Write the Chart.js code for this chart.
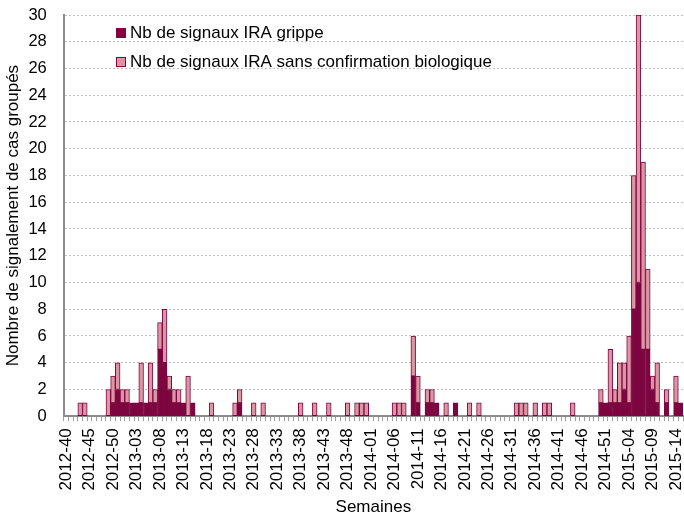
<!DOCTYPE html>
<html>
<head>
<meta charset="utf-8">
<script src="https://cdn.jsdelivr.net/npm/chart.js@4"></script>
<style>
  html, body { margin: 0; padding: 0; background: #fff; }
</style>
</head>
<body>
<canvas id="chart" width="684" height="518"></canvas>
<script>
// Semaines 2012-40 ... 2015-15 (2012, 2013, 2014 : 52 semaines)
var weeks = [];
[[2012, 40, 52], [2013, 1, 52], [2014, 1, 52], [2015, 1, 15]].forEach(function (r) {
    for (var w = r[1]; w <= r[2]; w++) weeks.push(r[0] + '-' + (w < 10 ? '0' + w : w));
});

// Nb de signaux IRA grippe
var grippe = [
    0, 0, 0, 0, 0, 0, 0, 0, 0, 0,
    1, 2, 1, 1, 1, 1, 1, 1, 1, 1,
    5, 4, 2, 1, 1, 1, 0, 1, 0, 0,
    0, 0, 0, 0, 0, 0, 0, 1, 0, 0,
    0, 0, 0, 0, 0, 0, 0, 0, 0, 0,
    0, 0, 0, 0, 0, 0, 0, 0, 0, 0,
    0, 0, 0, 0, 0, 0, 0, 0, 0, 0,
    0, 0, 0, 0, 3, 1, 0, 1, 1, 1,
    0, 0, 0, 1, 0, 0, 0, 0, 0, 0,
    0, 0, 0, 0, 0, 0, 0, 0, 0, 0,
    0, 0, 0, 0, 0, 0, 0, 0, 0, 0,
    0, 0, 0, 0, 1, 1, 1, 1, 1, 2,
    1, 8, 10, 5, 5, 2, 1, 0, 1, 0, 1, 1
];

// Nb de signaux IRA sans confirmation biologique
var sansConfirmation = [
    0, 0, 0, 1, 1, 0, 0, 0, 0, 2,
    2, 2, 1, 1, 0, 0, 3, 0, 3, 1,
    2, 4, 1, 1, 1, 0, 3, 0, 0, 0,
    0, 1, 0, 0, 0, 0, 1, 1, 0, 0,
    1, 0, 1, 0, 0, 0, 0, 0, 0, 0,
    1, 0, 0, 1, 0, 0, 1, 0, 0, 0,
    1, 0, 1, 1, 1, 0, 0, 0, 0, 0,
    1, 1, 1, 0, 3, 2, 0, 1, 1, 0,
    0, 1, 0, 0, 0, 0, 1, 0, 1, 0,
    0, 0, 0, 0, 0, 0, 1, 1, 1, 0,
    1, 0, 1, 1, 0, 0, 0, 0, 1, 0,
    0, 0, 0, 0, 1, 0, 4, 1, 3, 2,
    5, 10, 20, 14, 6, 1, 3, 0, 1, 0, 2, 0
];

var yTicks = [0, 2, 4, 6, 8, 10, 12, 14, 16, 18, 20, 22, 24, 26, 28, 30];

var darkColor = '#7d0640';
var pinkColor = '#dc95a2';
var fontFamily = '"Liberation Sans", Arial, sans-serif';

var insideLegend = {
    id: 'insideLegend',
    afterDatasetsDraw: function (chart) {
        var ctx = chart.ctx;
        ctx.save();
        ctx.font = '17px ' + fontFamily;
        ctx.textBaseline = 'middle';
        chart.data.datasets.forEach(function (ds, i) {
            var y = 33 + i * 29;
            ctx.fillStyle = ds.backgroundColor;
            ctx.fillRect(116, y - 5, 10, 10);
            ctx.strokeStyle = darkColor;
            ctx.lineWidth = 1;
            ctx.strokeRect(116.5, y - 4.5, 9, 9);
            ctx.fillStyle = '#000';
            ctx.fillText(ds.label, 130, y);
        });
        ctx.restore();
    }
};

var ctx = document.getElementById('chart').getContext('2d');
var chart = new Chart(ctx, {
    type: 'bar',
    data: {
        labels: weeks,
        datasets: [{
            label: 'Nb de signaux IRA grippe',
            data: grippe,
            backgroundColor: darkColor,
            borderColor: darkColor,
            borderWidth: 1,
            borderSkipped: false
        }, {
            label: 'Nb de signaux IRA sans confirmation biologique',
            data: sansConfirmation,
            backgroundColor: pinkColor,
            borderColor: darkColor,
            borderWidth: 1,
            borderSkipped: false
        }]
    },
    options: {
        responsive: false,
        animation: false,
        layout: { padding: { left: 2, right: 1, top: 15, bottom: 0 } },
        datasets: { bar: { categoryPercentage: 1, barPercentage: 1 } },
        plugins: {
            legend: { display: false },
            tooltip: { enabled: false }
        },
        scales: {
            x: {
                stacked: true,
                afterFit: function (scale) { scale.paddingLeft = 0; scale.paddingRight = 0; },
                grid: { drawOnChartArea: false, drawTicks: true, tickLength: 5, tickColor: '#a0a0a0' },
                border: { color: '#8c8c8c', width: 2 },
                ticks: {
                    autoSkip: false,
                    minRotation: 90,
                    maxRotation: 90,
                    padding: 7,
                    color: '#000',
                    font: { family: fontFamily, size: 17 },
                    callback: function (v, i) { return i % 5 === 0 ? weeks[i] : ''; }
                },
                title: {
                    display: true,
                    text: 'Semaines',
                    color: '#000',
                    font: { family: fontFamily, size: 17 },
                    padding: { top: 0, bottom: 0 }
                }
            },
            y: {
                stacked: true,
                min: yTicks[0],
                max: yTicks[yTicks.length - 1],
                afterBuildTicks: function (scale) {
                    scale.ticks = yTicks.map(function (v) { return { value: v }; });
                },
                afterFit: function (scale) { scale.paddingTop = 0; scale.paddingBottom = 0; },
                grid: { color: '#bfbfbf', lineWidth: 1, drawTicks: true, tickLength: 15, tickColor: 'rgba(0,0,0,0)' },
                border: { color: '#8c8c8c', width: 2, dash: [2, 2] },
                ticks: {
                    padding: 2,
                    color: '#000',
                    font: { family: fontFamily, size: 16.5 }
                },
                title: {
                    display: true,
                    text: 'Nombre de signalement de cas groupés',
                    color: '#000',
                    font: { family: fontFamily, size: 17 },
                    padding: { top: 1, bottom: 3 }
                }
            }
        }
    },
    plugins: [insideLegend]
});
</script>
</body>
</html>
